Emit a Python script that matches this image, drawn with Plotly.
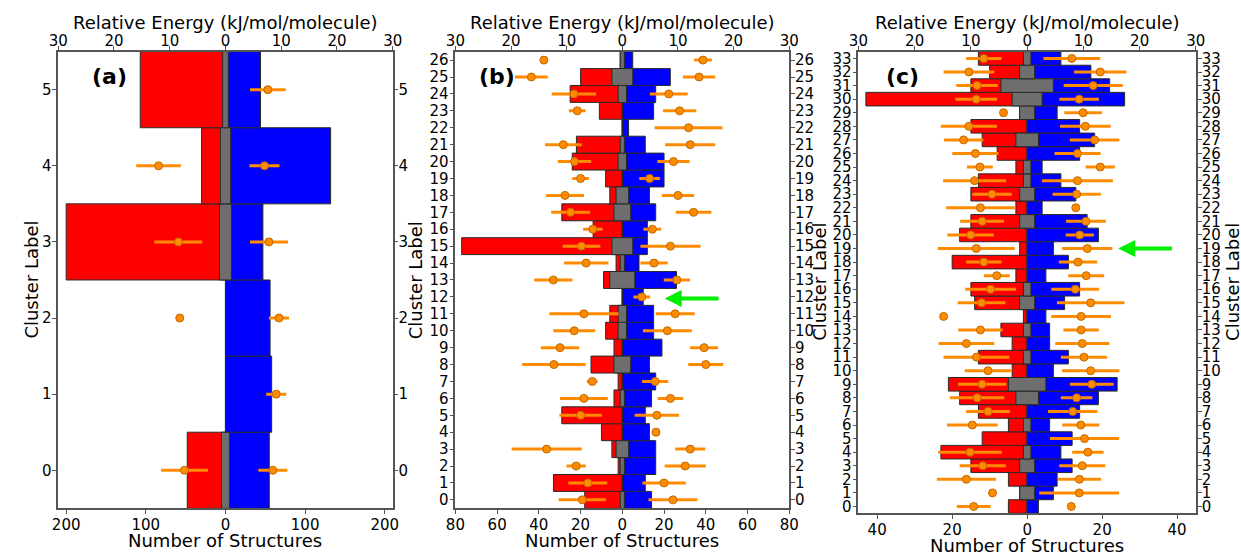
import plotly.graph_objects as go

# ---- panel (a) ----
a_clusters = list(range(6))
a_red = [48, 0, 0, 200, 30, 107]
a_blue = [55, 58, 56, 47, 132, 44]
a_grey = [5, 0, 0, 7.5, 6.5, 3.5]          # half width of the overlap bar
a_eleft = [7.35, None, 8.2, 8.45, 12.0, None]
a_eleft_err = [4.2, 0, 0, 4.3, 4.0, 0]
a_eright = [8.5, 9.1, 9.6, 7.8, 7.0, 7.6]
a_eright_err = [2.6, 1.8, 1.8, 3.4, 2.7, 3.2]

# ---- panel (b) ----
b_clusters = list(range(27))
b_red = [18, 33, 2, 5, 10, 29, 4, 2, 15, 4, 8, 6, 0, 9, 3, 77, 14, 29, 6, 8, 24, 22, 0, 11, 25, 20, 1]
b_blue = [14, 11, 16, 16, 13, 11, 14, 16, 13, 19, 15, 15, 10, 26, 8, 12, 12, 16, 13, 20, 20, 11, 3, 15, 16, 23, 5]
b_grey = [1, 0, 1, 3, 0, 0, 1, 0, 4, 0, 2, 2, 0, 6, 1, 5, 0, 4, 3, 0, 2, 1, 0, 0, 2, 5, 1]
b_eleft = [7.2, 6.2, 8.3, 13.6, None, 7.5, 6.9, 5.4, 12.3, 11.2, 8.65, 6.9, None, 12.4, 6.5, 7.35,
           5.3, 9.3, 10.3, 7.5, 8.6, 10.6, None, 8.1, 8.7, 16.35, 14.1]
b_eleft_err = [4.25, 3.5, 1.75, 6.3, 0, 3.8, 4.3, 0.95, 5.7, 3.45, 3.75, 6.2, 0, 3.45, 4.0, 3.4,
               1.75, 3.5, 3.4, 1.5, 3.0, 3.3, 0, 1.5, 4.0, 2.95, 0]
b_eright = [9.1, 7.5, 11.3, 12.2, 6.05, 6.2, 8.65, 5.9, 15.0, 14.7, 8.1, 9.5, 3.5, 9.8, 5.7, 8.65,
            5.4, 12.8, 10.0, 4.9, 9.2, 12.2, 11.9, 10.3, 8.35, 13.8, 14.5]
b_eright_err = [4.4, 3.9, 3.7, 2.7, 0, 4.0, 2.3, 2.35, 3.15, 2.5, 4.4, 3.5, 1.5, 2.35, 2.45, 5.4,
                1.6, 3.2, 2.9, 1.85, 2.9, 4.5, 6.1, 3.0, 3.4, 2.9, 1.6]

# ---- panel (c) ----
c_clusters = list(range(34))
c_red = [5, 2, 5, 15, 23, 12, 5, 13, 18, 21, 4, 13, 4, 7, 1, 14, 15, 3, 20, 2, 18, 15, 3, 15, 13, 3,
         8, 12, 15, 2, 43, 15, 10, 13]
c_blue = [3, 7, 8, 12, 9, 12, 6, 14, 19, 24, 7, 11, 6, 6, 5, 10, 14, 5, 11, 7, 19, 16, 4, 13, 9, 4,
          14, 18, 14, 8, 26, 22, 17, 9]
c_grey = [0, 2, 0, 2, 1, 0, 1, 0, 3, 5, 0, 1, 0, 1, 0, 2, 1, 0, 0, 0, 0, 2, 0, 2, 1, 1,
          0, 3, 0, 2, 4, 7, 2, 1]
c_eleft = [9.5, 6.15, 10.8, 7.9, 10.15, None, 9.75, 6.95, 8.9, 8.0, 6.95, 9.0, 10.8, 8.3, 14.85, 8.1,
           6.5, 5.4, 7.7, 9.05, 10.05, 8.0, 8.3, 6.25, 9.35, 8.4, 9.2, 11.3, 10.35, 4.2, 9.05, 8.9,
           10.35, 7.7]
c_eleft_err = [3.0, 0, 5.25, 4.1, 5.65, 0, 4.5, 3.9, 4.85, 4.3, 4.15, 5.85, 4.95, 3.95, 0, 4.25,
               4.5, 2.3, 3.15, 6.85, 4.15, 3.9, 6.1, 3.5, 5.6, 2.3, 4.1, 3.5, 5.0, 0, 3.7, 3.7,
               4.5, 3.15]
c_eright = [7.85, 9.25, 9.3, 9.8, 10.8, 10.2, 9.55, 8.1, 8.8, 11.5, 11.3, 10.1, 9.8, 9.6, 9.6, 11.3,
            8.55, 10.5, 9.05, 10.7, 9.35, 10.45, 8.65, 8.8, 8.95, 13.0, 8.95, 12.0, 10.35, 9.95,
            9.25, 11.75, 13.0, 7.95]
c_eright_err = [0, 7.1, 3.85, 4.1, 2.8, 6.15, 3.3, 4.4, 2.8, 3.9, 5.1, 4.1, 4.8, 3.15, 5.3, 6.0,
                4.25, 3.2, 3.4, 4.45, 2.5, 3.55, 0, 4.3, 6.3, 2.6, 4.1, 4.4, 4.5, 3.35, 3.5, 5.25,
                4.65, 5.05]

count_ticks = {1: [-200, -100, 0, 100, 200], 2: [-80, -60, -40, -20, 0, 20, 40, 60, 80], 3: [-40, -20, 0, 20, 40]}
count_range = {1: 210, 2: 80, 3: 45}
energy_ticks = [-30, -20, -10, 0, 10, 20, 30]

RED = '#ff0000'
BLUE = '#0000ff'
GREY = '#6e6e6e'
ORANGE = '#ff8c00'
EDGE = '#2a2a2a'
FRAME = '#555555'
FONT = 'DejaVu Sans'
W, H = 1241, 554

# panel boxes in pixels: left, right, top, bottom
box = {1: (49, 389, 50, 510), 2: (452.7, 792, 50, 510), 3: (862.3, 1205.3, 50, 515)}

fig = go.Figure()


def ref(letter, i):
    return letter if i == 1 else f'{letter}{i}'


def title(text, px, py, angle=0, size=18):
    fig.add_annotation(text=text, x=px / W, y=1 - py / H, xref='paper', yref='paper',
                       xanchor='center', yanchor='middle', textangle=angle, showarrow=False,
                       font=dict(size=size, color='black', family=FONT))


def add_panel(p, clusters, red, blue, grey, el, el_err, er, er_err):
    xb, xt = ref('x', 2 * p - 1), ref('x', 2 * p)
    yl, yr = ref('y', 2 * p - 1), ref('y', 2 * p)
    bar_line = dict(color=EDGE, width=1)
    fig.add_trace(go.Bar(y=clusters, x=[-v for v in red], orientation='h', width=1,
                         marker=dict(color=RED, line=bar_line), xaxis=xb, yaxis=yl))
    fig.add_trace(go.Bar(y=clusters, x=blue, orientation='h', width=1,
                         marker=dict(color=BLUE, line=bar_line), xaxis=xb, yaxis=yl))
    fig.add_trace(go.Bar(y=clusters, x=[2 * g for g in grey], base=[-g for g in grey],
                         orientation='h', width=1,
                         marker=dict(color=GREY, line=bar_line), xaxis=xb, yaxis=yl))
    mk = dict(color=ORANGE, size=8, line=dict(color='#c06a00', width=1))
    fig.add_trace(go.Scatter(y=clusters, x=[-e if e is not None else None for e in el], mode='markers',
                             marker=mk, xaxis=xt, yaxis=yl,
                             error_x=dict(type='data', array=el_err, color=ORANGE, thickness=3, width=0)))
    fig.add_trace(go.Scatter(y=clusters, x=er, mode='markers', marker=mk, xaxis=xt, yaxis=yl,
                             error_x=dict(type='data', array=er_err, color=ORANGE, thickness=3, width=0)))
    # keeps the right-hand axis alive
    fig.add_trace(go.Scatter(y=clusters, x=[0] * len(clusters), mode='markers',
                             marker=dict(opacity=0), hoverinfo='skip', xaxis=xb, yaxis=yr))

    l, r_, t, b = box[p]
    xdom = [l / W, r_ / W]
    ydom = [1 - b / H, 1 - t / H]
    common = dict(showline=True, linecolor=FRAME, linewidth=1.5, ticks='outside', ticklen=4,
                  tickcolor=FRAME, tickfont=dict(size=15, color='black'), showgrid=False,
                  zeroline=False, fixedrange=True)
    r = count_range[p]
    fig.layout[ref('xaxis', 2 * p - 1)] = dict(
        domain=xdom, anchor=yl, range=[-r, r], tickvals=count_ticks[p],
        ticktext=[str(abs(v)) for v in count_ticks[p]], ticklabelstandoff=-2, **common)
    fig.layout[ref('xaxis', 2 * p)] = dict(
        overlaying=xb, side='top', anchor=yl, range=[-30, 30], tickvals=energy_ticks,
        ticktext=[str(abs(v)) for v in energy_ticks], ticklabelstandoff=-6, **common)
    ylo, yhi = clusters[0] - 0.5, clusters[-1] + 0.5
    fig.layout[ref('yaxis', 2 * p - 1)] = dict(
        domain=ydom, anchor=xb, range=[ylo, yhi], tickvals=clusters, ticklabelstandoff=-2, **common)
    fig.layout[ref('yaxis', 2 * p)] = dict(
        overlaying=yl, side='right', anchor=xb, range=[ylo, yhi], tickvals=clusters,
        ticklabelstandoff=-3, **common)

    cx = (l + r_) / 2
    title('Relative Energy (kJ/mol/molecule)', cx, 21)
    title('Number of Structures', cx, b + 32)


add_panel(1, a_clusters, a_red, a_blue, a_grey, a_eleft, a_eleft_err, a_eright, a_eright_err)
add_panel(2, b_clusters, b_red, b_blue, b_grey, b_eleft, b_eleft_err, b_eright, b_eright_err)
add_panel(3, c_clusters, c_red, c_blue, c_grey, c_eleft, c_eleft_err, c_eright, c_eright_err)

title('Cluster Label', 22, 280, angle=-90)
title('Cluster Label', 413, 280, angle=-90)
title('Cluster Label', 823, 282, angle=-90)
title('Cluster Label', 1243, 282, angle=-90)

for lab, px in [('(a)', 101), ('(b)', 495), ('(c)', 907)]:
    title(f'<b>{lab}</b>', px, 75, size=22)

# green arrows
fig.add_annotation(x=20.3, y=11.9, ax=46.8, ay=11.9, xref='x3', yref='y3', axref='x3', ayref='y3',
                   text='', showarrow=True, arrowhead=2, arrowsize=0.85, arrowwidth=4, arrowcolor='#00ee00')
fig.add_annotation(x=24.3, y=19, ax=39, ay=19, xref='x5', yref='y5', axref='x5', ayref='y5',
                   text='', showarrow=True, arrowhead=2, arrowsize=0.85, arrowwidth=4, arrowcolor='#00ee00')

fig.update_layout(
    width=W, height=H,
    margin=dict(l=0, r=0, t=0, b=0),
    barmode='overlay', showlegend=False,
    plot_bgcolor='white', paper_bgcolor='white',
    font=dict(family=FONT, color='black'),
)
fig.write_html("out.html", config={'displayModeBar': False},
               post_script="document.body.style.margin='0';")
